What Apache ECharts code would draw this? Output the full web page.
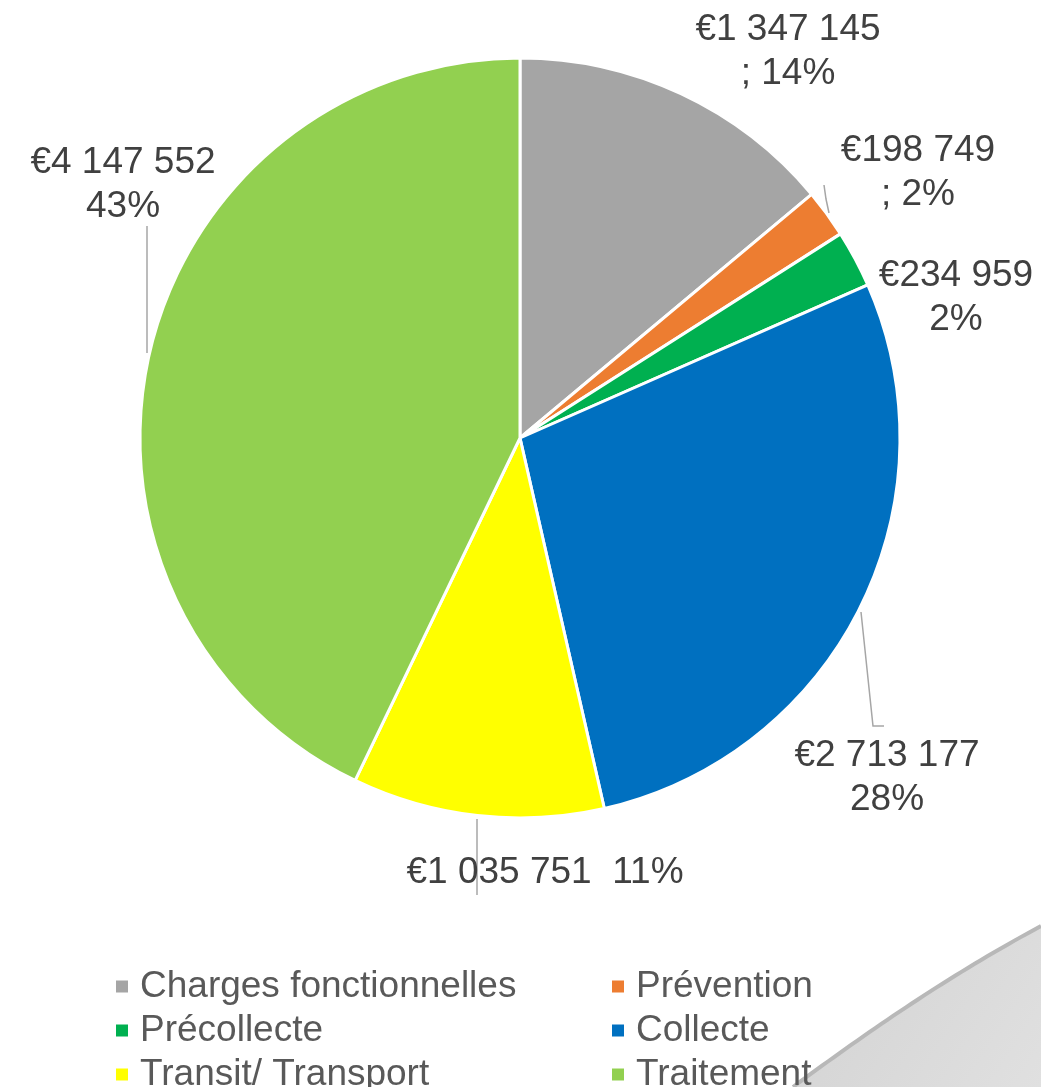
<!DOCTYPE html>
<html>
<head>
<meta charset="utf-8">
<script src="https://cdn.jsdelivr.net/npm/echarts@6/dist/echarts.min.js"></script>
<style>
html,body{margin:0;padding:0;background:#fff;}
#chart{width:1041px;height:1087px;}
</style>
</head>
<body>
<div id="chart"></div>
<script>
// ---- data ----
const categories = ["Charges fonctionnelles", "Prévention", "Précollecte", "Collecte", "Transit/ Transport", "Traitement"];
const values = [1347145, 198749, 234959, 2713177, 1035751, 4147552];
const percentLabels = ["14%", "2%", "2%", "28%", "11%", "43%"];
const labelSeparators = ["\n; ", "\n; ", "\n", "\n", "  ", "\n"];
const colors = ["#a5a5a5", "#ed7d31", "#00b050", "#0070c0", "#ffff00", "#92d050"];

// ---- layout / style (not data) ----
const labelPos = [[788, 52], [918, 173], [956, 298], [887, 778], [545, 873], [123, 185]];
const leaderLines = [
  null,
  [[824, 185], [826, 199], [829, 213]],
  null,
  [[861, 612], [873, 726], [884, 726]],
  [[477, 819], [477, 857], [477, 895]],
  [[147, 353], [147, 290], [147, 226]]
];

function fmtEuro(v) {
  return "€" + String(v).replace(/\B(?=(\d{3})+(?!\d))/g, " ");
}

// decorative page-curl outline (bezier sampled)
function curlPoints() {
  const p0 = [793, 1087], p1 = [870, 1030], p2 = [950, 975], p3 = [1041, 926];
  const pts = [];
  for (let k = 0; k <= 40; k++) {
    const t = k / 40, u = 1 - t;
    pts.push([
      u*u*u*p0[0] + 3*u*u*t*p1[0] + 3*u*t*t*p2[0] + t*t*t*p3[0],
      u*u*u*p0[1] + 3*u*u*t*p1[1] + 3*u*t*t*p2[1] + t*t*t*p3[1]
    ]);
  }
  return pts;
}
const curlEdge = curlPoints();

const chart = echarts.init(document.getElementById('chart'));
const option = {
  animation: false,
  backgroundColor: '#ffffff',
  color: colors,
  graphic: [
    {
      type: 'polygon',
      z: -1,
      shape: { points: curlEdge.concat([[1041, 1087]]) },
      style: {
        fill: {
          type: 'linear', x: 0, y: 0, x2: 1, y2: 1,
          colorStops: [
            { offset: 0, color: '#d2d2d2' },
            { offset: 1, color: '#e0e0e0' }
          ]
        }
      }
    },
    {
      type: 'polyline',
      z: -1,
      shape: { points: curlEdge },
      style: { stroke: '#b8b8b8', lineWidth: 4, fill: null }
    }
  ],
  legend: {
    data: categories,
    left: 109,
    top: 963,
    width: 1000,
    orient: 'horizontal',
    icon: 'rect',
    itemWidth: 14,
    itemHeight: 14,
    itemGap: 7,
    textStyle: {
      fontFamily: 'Liberation Sans, Arial, sans-serif',
      fontSize: 37,
      color: '#595959',
      lineHeight: 36,
      width: 463,
      padding: [0, 0, 0, 6]
    }
  },
  series: [{
    type: 'pie',
    center: [520, 438],
    radius: 380,
    startAngle: 90,
    clockwise: true,
    avoidLabelOverlap: false,
    itemStyle: { borderColor: '#ffffff', borderWidth: 3 },
    label: {
      show: true,
      position: 'outside',
      fontFamily: 'Liberation Sans, Arial, sans-serif',
      fontSize: 37,
      lineHeight: 44,
      color: '#404040',
      align: 'center',
      formatter: function (p) {
        return fmtEuro(values[p.dataIndex]) + labelSeparators[p.dataIndex] + percentLabels[p.dataIndex];
      }
    },
    labelLine: {
      show: true,
      lineStyle: { color: '#a6a6a6', width: 1.5 }
    },
    labelLayout: function (params) {
      const i = params.dataIndex;
      const r = { x: labelPos[i][0], y: labelPos[i][1], align: 'center', verticalAlign: 'middle' };
      if (leaderLines[i]) r.labelLinePoints = leaderLines[i];
      return r;
    },
    data: categories.map(function (c, i) {
      return {
        name: c,
        value: values[i],
        labelLine: { show: !!leaderLines[i] }
      };
    })
  }]
};
chart.setOption(option);
</script>
</body>
</html>
